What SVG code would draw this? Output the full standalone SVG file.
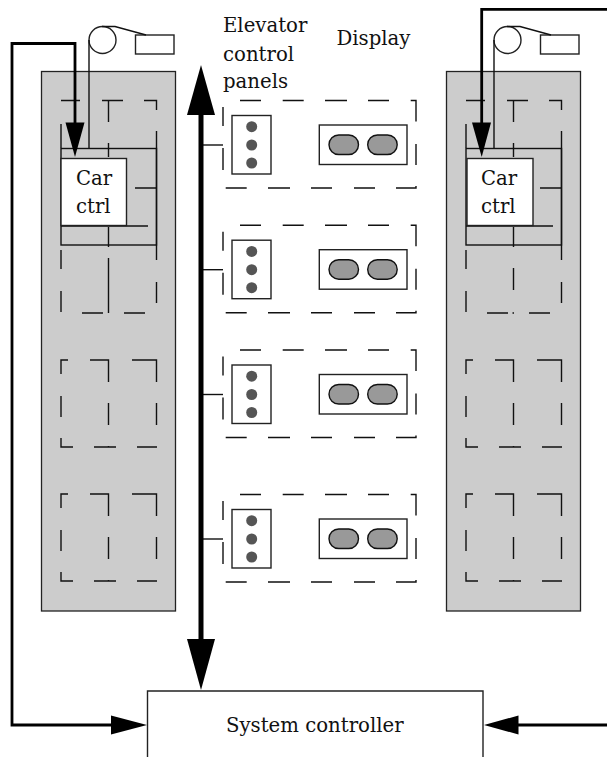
<svg xmlns="http://www.w3.org/2000/svg" xmlns:xlink="http://www.w3.org/1999/xlink" width="607" height="757" viewBox="0 0 607 757">
<style>
text{font-family:"DejaVu Serif","Liberation Serif",serif;font-size:19.700px;fill:#111}
.box{fill:#fff;stroke:#222;stroke-width:1.4}
.shaft{fill:#ccc;stroke:#222;stroke-width:1.3}
.thin{fill:none;stroke:#111;stroke-width:1.4}
.dash{fill:none;stroke:#111;stroke-width:1.4}
.thick{fill:none;stroke:#000;stroke-width:2.8}
.bus{fill:none;stroke:#000;stroke-width:5}
.head{fill:#000}
.dot{fill:#555}
.pill{fill:#999;stroke:#111;stroke-width:1.4}
</style>
<defs>
<path id="floorDash" class="dash" d="M68 360H61V374M61 396V417M61 438V447H73M94 447H116M137 447H157M90 360H108.500V382M108.500 403V425M108.500 446V447.500M132 360H156.500V382M156.500 403V425"/>
<g id="hall">
<path class="dash" d="M240 100.500H261M282.700 100.500H303.700M325 100.500H347M368 100.500H389M410.700 100.500H416V121.500M416 144V165M416 186V188H396M375 188H354M332 188H311M290 188H268M246.700 188H225.700M223 170V148M223 126V107"/>
<path class="thin" d="M203 145H223"/>
<rect class="box" x="232" y="115.500" width="39" height="58.500"/>
<circle class="dot" cx="251.700" cy="126.700" r="5.500"/>
<circle class="dot" cx="251.700" cy="145" r="5.500"/>
<circle class="dot" cx="251.700" cy="163" r="5.500"/>
<rect class="box" x="319.300" y="125" width="87.700" height="39.500"/>
<rect class="pill" x="329" y="135" width="29.500" height="19.500" rx="9.750"/>
<rect class="pill" x="367.700" y="135" width="29.500" height="19.500" rx="9.750"/>
</g>
<g id="hoist">
<circle class="box" cx="102.500" cy="40" r="13.500"/>
<rect class="box" x="135.500" y="35" width="38.500" height="19"/>
<path class="thin" d="M89 148V40M102 26.500H115L146 35"/>
</g>
</defs>

<g id="left-shaft">
<rect class="shaft" x="41.500" y="71.500" width="134" height="539.500"/>
<path class="dash" d="M61 100.500H80M102 100.500H123M144 100.500H156.500V110M156.500 131V260M156.500 282V303M145 313H124M103 313H82M61 312V291M61 269V250M61 148V124M108.500 100.500V122M108.500 143V157M108.500 227V247M108.500 258V313"/>
<rect class="thin" x="61" y="148.500" width="95.500" height="96.500"/>
<path class="thin" d="M135 188H156.500M61 226H148"/>
<use xlink:href="#floorDash" href="#floorDash"/>
<use xlink:href="#floorDash" href="#floorDash" y="134"/>
</g>
<g id="left-hoist"><use xlink:href="#hoist" href="#hoist"/></g>
<g id="left-car">
<rect class="box" x="61" y="158.500" width="65.500" height="67"/>
<text x="76" y="185">Car</text>
<text x="76" y="212.700">ctrl</text>
</g>

<g id="right-shaft">
<rect class="shaft" x="446.500" y="71.500" width="134" height="539.500"/>
<path class="dash" d="M466 100.500H485M507 100.500H528M549 100.500H561.500V110M561.500 131V260M561.500 282V303M550 313H529M514 313H512.500M508 313H487M466 312V291M466 269V250M466 148V124M513.500 100.500V122M513.500 143V157M513.500 227V247M513.500 268V290"/>
<rect class="thin" x="466" y="148.500" width="95.500" height="96.500"/>
<path class="thin" d="M540 188H561.500M466 226H553"/>
<use xlink:href="#floorDash" href="#floorDash" x="405"/>
<use xlink:href="#floorDash" href="#floorDash" x="405" y="134"/>
</g>
<g id="right-hoist"><use xlink:href="#hoist" href="#hoist" x="405"/></g>
<g id="right-car">
<rect class="box" x="467" y="158.500" width="66" height="67"/>
<text x="481" y="185">Car</text>
<text x="481" y="212.700">ctrl</text>
</g>

<g id="hall-1"><use xlink:href="#hall" href="#hall"/></g>
<g id="hall-2"><use xlink:href="#hall" href="#hall" y="124.700"/></g>
<g id="hall-3"><use xlink:href="#hall" href="#hall" y="249.500"/></g>
<g id="hall-4"><use xlink:href="#hall" href="#hall" y="394"/></g>

<g id="labels">
<text x="223" y="32">Elevator</text>
<text x="223" y="60.700">control</text>
<text x="223" y="88.300">panels</text>
<text x="336.500" y="45">Display</text>
</g>

<g id="system-controller">
<path class="box" d="M147.500 757V691H483V757"/>
<text x="226" y="731.500">System controller</text>
</g>

<g id="connectors">
<path class="bus" d="M201 112V642"/>
<path class="head" d="M201 65L215 115H187Z"/>
<path class="head" d="M201 690L215 639H187Z"/>
<path class="thick" d="M75 125V43.500H12V725H113"/>
<path class="head" d="M75 157L84.500 122.500H65.500Z"/>
<path class="head" d="M147 725L111 715.500V734.500Z"/>
<path class="thick" d="M607 9.300H481.700V125"/>
<path class="head" d="M481.700 157L491 122.500H472Z"/>
<path class="thick" d="M607 725H516"/>
<path class="head" d="M484 725L518.500 715.500V734.500Z"/>
</g>
</svg>
